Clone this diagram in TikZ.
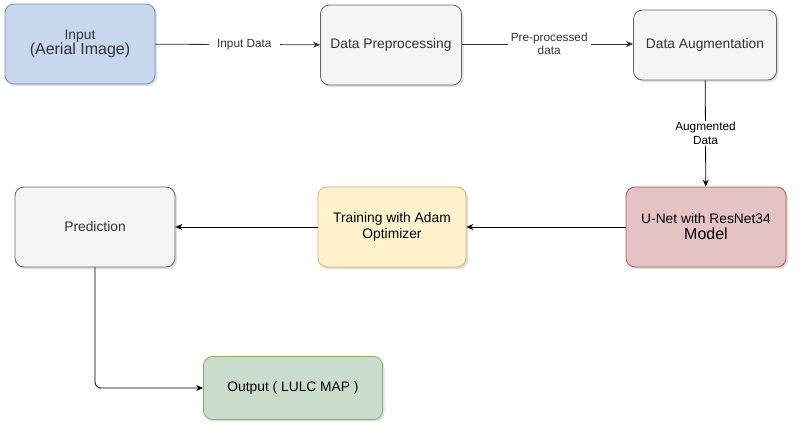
\documentclass[tikz,border=0pt]{standalone}
\usepackage{fontspec}
\setmainfont{Liberation Sans}
\usetikzlibrary{positioning, arrows.meta, shadows}
\definecolor{inblue}{HTML}{C7D8EE}
\definecolor{inblueline}{HTML}{6C8EBF}
\definecolor{grfill}{HTML}{F5F5F5}
\definecolor{grline}{HTML}{666666}
\definecolor{ylfill}{HTML}{FFF2CC}
\definecolor{ylline}{HTML}{D6B656}
\definecolor{rdfill}{HTML}{E5C3C5}
\definecolor{rdline}{HTML}{B85450}
\definecolor{gnfill}{HTML}{CADCCB}
\definecolor{gnline}{HTML}{82B366}
\definecolor{txgray}{HTML}{333333}

\begin{document}
\begin{tikzpicture}[x=1pt, y=-1pt,
                box/.style={draw, rounded corners=9pt, align=center, line width=0.8pt,
                    font=\fontsize{13.8}{16}\selectfont, inner sep=0pt,
                    drop shadow={shadow xshift=2pt, shadow yshift=-2pt, opacity=0.25}},
                bl/.style={box, fill=inblue, draw=inblueline, text=txgray},
                gy/.style={box, fill=grfill, draw=grline, text=txgray},
                yl/.style={box, fill=ylfill, draw=ylline},
                rd/.style={box, fill=rdfill, draw=rdline},
                gn/.style={box, fill=gnfill, draw=gnline},
                big/.style={font=\fontsize{16}{18}\selectfont},
                flow/.style={-{Stealth[length=7pt, width=6pt]}, line width=0.8pt},
                lbl/.style={fill=white, align=center, inner sep=3pt,
                    font=\fontsize{11.8}{13.5}\selectfont}]

    \useasboundingbox (0,0) rectangle (803,439); % same size as the reference

    % first row
    \node [bl, minimum width=150pt, minimum height=80pt] (inp) at (80,44)
        {Input\\[-1pt]{\fontsize{16}{18}\selectfont (Aerial Image)}};
    \node [gy, minimum width=141pt, minimum height=80pt] (prep) at (391,45) {Data Preprocessing};
    \node [gy, minimum width=143pt, minimum height=70pt] (aug) at (705,45) {Data Augmentation};

    % second row
    \node [rd, minimum width=160pt, minimum height=80pt] (unet) at (706,227)
        {U-Net with ResNet34\\{\fontsize{16}{18}\selectfont Model}};
    \node [yl, minimum width=148pt, minimum height=80pt] (train) at (392,227)
        {Training with Adam\\Optimizer};
    \node [gy, minimum width=160pt, minimum height=80pt] (pred) at (95,227) {Prediction};

    % result
    \node [gn, minimum width=179pt, minimum height=63pt] (out) at (293,388) {Output ( LULC MAP )};

    \draw [flow, txgray] (inp) -- node [lbl, inner xsep=8pt, pos=0.54] {Input Data} (prep);
    \draw [flow, txgray] (prep.east |- inp) -- node [lbl, pos=0.51] {Pre-processed\\data} (aug.west |- inp);
    \draw [flow] (aug) -- node [lbl, pos=0.5, inner sep=1pt] {Augmented\\Data} (unet);
    \draw [flow] (unet) -- (train);
    \draw [flow] (train) -- (pred);
    \draw [flow, rounded corners=6pt] (pred) |- (out);

\end{tikzpicture}
\end{document}
